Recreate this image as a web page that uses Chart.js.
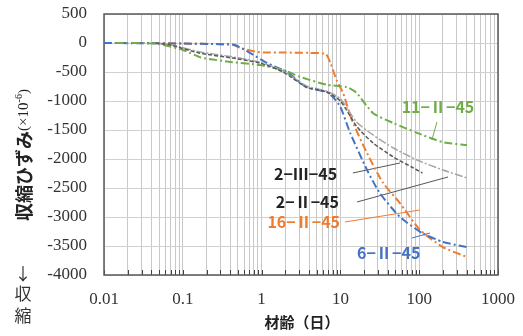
<!DOCTYPE html>
<html>
<head>
<meta charset="utf-8">
<script src="https://cdn.jsdelivr.net/npm/chart.js@4/dist/chart.umd.min.js"></script>
<style>
    html, body { margin: 0; padding: 0; background: #fff; }
    #wrap { width: 523px; height: 336px; }
</style>
</head>
<body>
<div id="wrap"><canvas id="chart" width="523" height="336"></canvas></div>
<script>
// decade labels of the age axis (days)
const xDecades = [0.01, 0.1, 1, 10, 100, 1000];
const yTicks = [500, 0, -500, -1000, -1500, -2000, -2500, -3000, -3500, -4000];

// 16-II-45 (orange)
const days16 = [0.01, 0.05, 0.1, 0.3, 0.43, 0.53, 0.7, 0.95, 2, 4, 6.5, 7.5, 9, 10.8, 14, 21.8, 34.7, 57, 102, 200, 404];
const vals16 = [0, 0, -10, -20, -30, -80, -125, -160, -165, -170, -190, -350, -650, -860, -1330, -1900, -2410, -2760, -3220, -3520, -3690];

// 6-II-45 (blue)
const days6 = [0.01, 0.1, 0.3, 0.45, 0.71, 1.17, 2.1, 3.7, 6.7, 8, 10, 13.3, 21.8, 31.7, 57, 110, 200, 404];
const vals6 = [0, -10, -20, -30, -170, -345, -500, -760, -845, -930, -1100, -1550, -2190, -2590, -3000, -3280, -3430, -3520];

// 11-II-45 (green)
const days11 = [0.014, 0.045, 0.1, 0.17, 0.43, 0.95, 1.87, 3.1, 6.7, 12, 16, 26, 47, 94, 200, 404];
const vals11 = [0, -10, -120, -250, -330, -380, -465, -585, -720, -760, -860, -1210, -1380, -1550, -1710, -1760];

// 2-III-45 (dark grey)
const days2iii = [0.045, 0.07, 0.16, 0.43, 0.95, 1.87, 3.7, 6.7, 10, 16.3, 26, 47, 80, 110];
const vals2iii = [0, -35, -172, -260, -345, -500, -760, -845, -1000, -1448, -1724, -1965, -2138, -2241];

// 2-II-45 (light grey)
const days2ii = [0.045, 0.07, 0.16, 0.43, 0.95, 1.87, 3.7, 6.7, 10, 16, 26, 47, 94, 200, 404];
const vals2ii = [0, -30, -150, -240, -330, -480, -740, -830, -960, -1362, -1586, -1810, -2017, -2190, -2327];

// series labels and their leader lines (data coordinates)
const labelTexts = ['11−Ⅱ−45', '2−Ⅲ−45', '2−Ⅱ−45', '16−Ⅱ−45', '6−Ⅱ−45'];
const labelColors = ['#70AD47', '#222222', '#222222', '#ED7D31', '#4472C4'];
const labelDays = [173, 9.1, 9.6, 9.9, 16.3];
const labelVals = [-1103, -2258, -2741, -3086, -3620];
const labelAlign = ['center', 'right', 'right', 'right', 'left'];
const leaderDays = [[168, 145], [14.4, 57], [16.3, 232], [11.4, 102], [81, 137]];
const leaderVals = [[-1362, -1672], [-2241, -2069], [-2741, -2310], [-3086, -2879], [-3362, -3276]];
const leaderColors = ['#70AD47', '#555555', '#555555', '#ED7D31', '#4472C4'];

function pts(d, v) {
    return d.map((x, i) => ({ x: x, y: v[i] }));
}

function seriesSet(label, d, v, color, width, dash) {
    return {
        label: label,
        data: pts(d, v),
        borderColor: color,
        borderWidth: width,
        borderDash: dash,
        pointRadius: 0,
        fill: false,
        tension: 0.2
    };
}

const datasets = [
    seriesSet('2-III-45', days2iii, vals2iii, '#595959', 1.5, [4, 2]),
    seriesSet('2-II-45', days2ii, vals2ii, '#A5A5A5', 1.5, [8, 2, 2, 2]),
    seriesSet('11-II-45', days11, vals11, '#70AD47', 2, [8, 3, 2, 3]),
    seriesSet('6-II-45', days6, vals6, '#4472C4', 2, [8, 3, 2, 3]),
    seriesSet('16-II-45', days16, vals16, '#ED7D31', 2, [8, 3, 2, 3])
];
leaderDays.forEach((d, i) => {
    datasets.push({
        label: 'leader' + i,
        data: pts(d, leaderVals[i]),
        borderColor: leaderColors[i],
        borderWidth: 1,
        pointRadius: 0,
        fill: false
    });
});

// minor ticks 1..9 x 10^n between the decade labels
const xTickValues = [];
xDecades.forEach((d, i) => {
    if (i === xDecades.length - 1) { xTickValues.push(d); return; }
    for (let k = 1; k <= 9; k++) xTickValues.push(+(d * k).toPrecision(3));
});

const decorPlugin = {
    id: 'decor',
    beforeDatasetsDraw(chart) {
        const ctx = chart.ctx;
        const a = chart.chartArea;
        const xs = chart.scales.x;
        ctx.save();
        // inner tick marks on the bottom axis
        ctx.strokeStyle = '#404040';
        ctx.lineWidth = 1;
        xTickValues.forEach(v => {
            const px = Math.round(xs.getPixelForValue(v)) + 0.5;
            ctx.beginPath();
            ctx.moveTo(px, a.bottom);
            ctx.lineTo(px, a.bottom - 5);
            ctx.stroke();
        });
        // frame
        ctx.strokeStyle = '#595959';
        ctx.lineWidth = 1.5;
        ctx.strokeRect(a.left, a.top, a.right - a.left, a.bottom - a.top);
        ctx.restore();
    },
    afterDraw(chart) {
        const ctx = chart.ctx;
        const xs = chart.scales.x;
        const ys = chart.scales.y;
        ctx.save();
        // series labels
        ctx.textBaseline = 'middle';
        ctx.font = 'bold 16px "Noto Sans CJK JP"';
        labelTexts.forEach((t, i) => {
            ctx.fillStyle = labelColors[i];
            ctx.textAlign = labelAlign[i];
            ctx.fillText(t, xs.getPixelForValue(labelDays[i]), ys.getPixelForValue(labelVals[i]));
        });

        // x axis title
        ctx.fillStyle = '#222';
        ctx.textAlign = 'center';
        ctx.font = 'bold 15px "Noto Sans CJK JP"';
        ctx.fillText('材齢（日）', 302, 322);

        // y axis title, rotated
        ctx.save();
        ctx.translate(24, 155);
        ctx.rotate(-Math.PI / 2);
        const parts = [
            { t: '収縮ひずみ', f: 'bold 18px "Noto Sans CJK JP"', dy: 0 },
            { t: '(×10', f: '15px "Liberation Serif"', dy: 0 },
            { t: '-6', f: '10px "Liberation Serif"', dy: -5 },
            { t: ')', f: '15px "Liberation Serif"', dy: 0 }
        ];
        let total = 0;
        parts.forEach(p => { ctx.font = p.f; p.w = ctx.measureText(p.t).width; total += p.w; });
        let cx = -total / 2;
        ctx.textAlign = 'left';
        parts.forEach(p => {
            ctx.font = p.f;
            ctx.fillText(p.t, cx, p.dy);
            cx += p.w;
        });
        ctx.restore();

        // shrink direction note
        ctx.textAlign = 'center';
        ctx.font = '17px "Noto Sans CJK JP"';
        ctx.fillStyle = '#333';
        ctx.fillText('↓', 23, 274);
        ctx.fillText('収', 23, 294);
        ctx.fillText('縮', 23, 316);
        ctx.restore();
    }
};

new Chart(document.getElementById('chart').getContext('2d'), {
    type: 'line',
    data: { datasets: datasets },
    plugins: [decorPlugin],
    options: {
        responsive: false,
        animation: false,
        layout: { padding: { left: 0, top: 14, right: 25, bottom: 0 } },
        plugins: {
            legend: { display: false },
            tooltip: { enabled: false }
        },
        scales: {
            x: {
                type: 'logarithmic',
                min: 0.01,
                max: 1000,
                afterBuildTicks: scale => {
                    scale.ticks = xTickValues.map(v => ({ value: v }));
                },
                afterFit: scale => {
                    scale.height = 61;
                    scale.paddingLeft = 0;
                    scale.paddingRight = 0;
                },
                grid: { color: '#c8c8c8', lineWidth: 1, drawTicks: false },
                border: { display: false },
                ticks: {
                    autoSkip: false,
                    maxRotation: 0,
                    padding: 14,
                    color: '#333',
                    font: { family: '"Liberation Serif"', size: 17 },
                    callback: v => xDecades.includes(v) ? String(v) : ''
                }
            },
            y: {
                min: -4000,
                max: 500,
                afterBuildTicks: scale => {
                    scale.ticks = yTicks.map(v => ({ value: v }));
                },
                afterFit: scale => {
                    scale.width = 104;
                    scale.paddingTop = 0;
                    scale.paddingBottom = 0;
                },
                grid: { color: '#d0d0d0', lineWidth: 1, drawTicks: false },
                border: { display: false },
                ticks: {
                    padding: 17,
                    color: '#333',
                    font: { family: '"Liberation Serif"', size: 17 },
                    callback: v => String(v)
                }
            }
        }
    }
});
</script>
</body>
</html>
